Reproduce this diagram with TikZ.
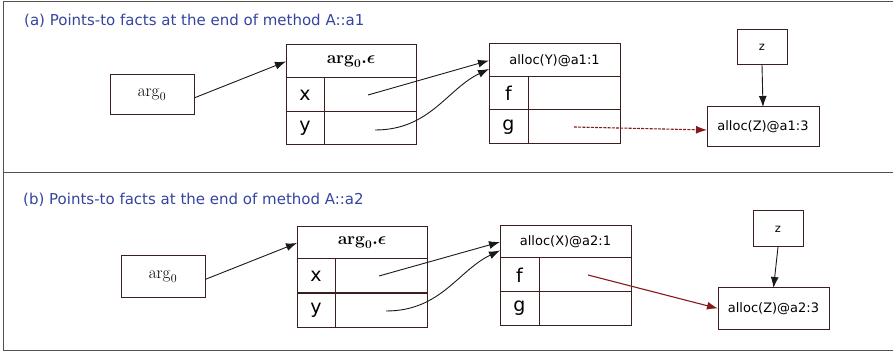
\documentclass[tikz,border=0pt]{standalone}
\usepackage[no-math]{fontspec}
\newfontfamily\dv{DejaVu Sans}
\usetikzlibrary{arrows.meta}
\definecolor{ttl}{RGB}{52,68,160}
\definecolor{bx}{RGB}{60,30,30}
\definecolor{rd}{RGB}{135,25,25}
\definecolor{frm}{RGB}{85,80,80}
\tikzset{
  cell/.style 2 args={draw=bx,line width=1pt,inner sep=0pt,outer sep=0pt,
    minimum width=#1,minimum height=#2,font=\dv\fontsize{13}{15}\selectfont},
  keycell/.style={font=\dv\fontsize{19}{21}\selectfont},
  zcell/.style={font=\dv\fontsize{11.5}{13}\selectfont},
  argcell/.style={font=\fontsize{16.5}{18}\selectfont},
  title/.style={anchor=base west,inner sep=0pt,text=ttl,font=\dv\fontsize{15}{17}\selectfont},
  conn/.style={draw=black!90,line width=0.9pt,-{Latex[length=11pt,width=8pt]}},
  red/.style={draw=rd,line width=1.1pt,-{Latex[length=11pt,width=8pt]}},
  frame/.style={draw=frm,line width=1pt}
}
\begin{document}
\begin{tikzpicture}[x=1pt,y=-1pt]
\useasboundingbox (0,0) rectangle (893,352);
% frame
\draw[frame] (900,1.5) -- (3,1.5) -- (3,350) -- (900,350);
\draw[frame] (3,172.5) -- (900,172.5);

% ---------- panel (a) ----------
\node[title] (ta) at (24,26) {(a) Points-to facts at the end of method A::a1};

\node[cell={84pt}{40pt},argcell] (aarg) at (152,95) {$\mathrm{arg}_0$};

\node[cell={130pt}{33pt},argcell] (ah) at (351,61.5) {{\boldmath$\mathrm{arg}_0.\epsilon$}};
\node[cell={38pt}{34pt},keycell] (axk) at (305,95) {x};
\node[cell={92pt}{34pt}] (axv) at (370,95) {};
\node[cell={38pt}{33pt},keycell] (ayk) at (305,128.5) {y};
\node[cell={92pt}{33pt}] (ayv) at (370,128.5) {};

\node[cell={131pt}{33pt}] (aY) at (554.5,60.5) {alloc(Y)@a1:1};
\node[cell={39pt}{33pt},keycell] (afk) at (508.5,93.5) {f};
\node[cell={92pt}{33pt}] (afv) at (574,93.5) {};
\node[cell={39pt}{34pt},keycell] (agk) at (508.5,127) {g};
\node[cell={92pt}{34pt}] (agv) at (574,127) {};

\node[cell={50pt}{35pt},zcell] (az) at (762,47.5) {z};
\node[cell={112pt}{40pt}] (aZ) at (763,127) {alloc(Z)@a1:3};

\draw[conn] ([yshift=-3pt]aarg.east) -- (ah.west);
\draw[conn] ([xshift=-2pt]axv.center) -- (aY.west);
\draw[conn] ([xshift=5pt,yshift=-1.5pt]ayv.center) .. controls +(55,0) and +(-42,20) .. ([yshift=-8.5pt]aY.west);
\draw[conn] (az.south) -- (aZ.north);
\draw[red,dash pattern=on 3pt off 1.2pt] (agv.center) -- ([yshift=-3pt]aZ.west);

% ---------- panel (b) ----------
\node[title] (tb) at (23,205) {(b) Points-to facts at the end of method A::a2};

\node[cell={84pt}{41pt},argcell] (barg) at (163,276.5) {$\mathrm{arg}_0$};

\node[cell={130pt}{32pt},argcell] (bh) at (362,243) {{\boldmath$\mathrm{arg}_0.\epsilon$}};
\node[cell={38pt}{34pt},keycell] (bxk) at (316,276) {x};
\node[cell={92pt}{34pt}] (bxv) at (381,276) {};
\node[cell={38pt}{34pt},keycell] (byk) at (316,310) {y};
\node[cell={92pt}{34pt}] (byv) at (381,310) {};

\node[cell={131pt}{32pt}] (bX) at (565.5,242) {alloc(X)@a2:1};
\node[cell={39pt}{34pt},keycell] (bfk) at (519.5,275) {f};
\node[cell={92pt}{34pt}] (bfv) at (585,275) {};
\node[cell={39pt}{33pt},keycell] (bgk) at (519.5,308.5) {g};
\node[cell={92pt}{33pt}] (bgv) at (585,308.5) {};

\node[cell={50pt}{36pt},zcell] (bz) at (778,229) {z};
\node[cell={111pt}{41pt}] (bZ) at (773.5,308.5) {alloc(Z)@a2:3};

\draw[conn] ([yshift=-3pt]barg.east) -- (bh.west);
\draw[conn] ([xshift=-2pt]bxv.center) -- (bX.west);
\draw[conn] ([xshift=5pt,yshift=-1pt]byv.center) .. controls +(55,0) and +(-42,20) .. ([yshift=-8.5pt]bX.west);
\draw[conn] (bz.south) -- (bZ.north);
\draw[red] ([xshift=3pt]bfv.center) -- (bZ.west);
\end{tikzpicture}
\end{document}
